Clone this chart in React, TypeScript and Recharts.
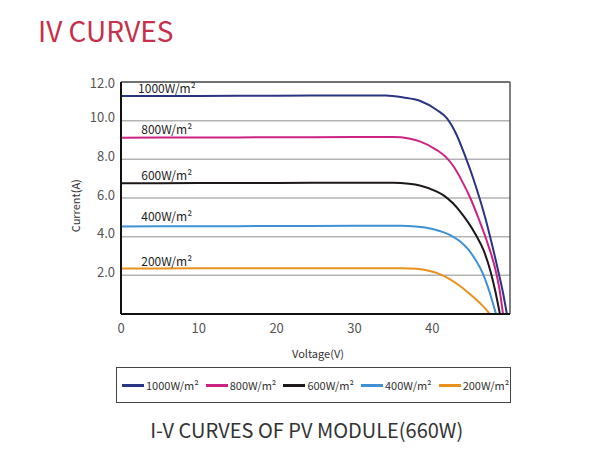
import React from 'react';
import { LineChart, Line, XAxis, YAxis, CartesianGrid, ReferenceLine, ReferenceDot } from 'recharts';

const FONT = '"Noto Sans CJK SC", "Noto Sans", sans-serif';

// [voltage, current] points
const s1000: [number, number][] = [[0, 11.27], [10, 11.28], [20, 11.29], [30, 11.3], [34, 11.3], [36.3, 11.2], [38.4, 11.03], [40.6, 10.55], [41.9, 10.12], [43.1, 9.3], [44.3, 8.1], [45.2, 7.1], [46.0, 6.1], [46.8, 5.0], [47.5, 3.9], [48.5, 2.2], [49.1, 1.1], [49.6, 0]];
const s800: [number, number][] = [[0, 9.12], [10, 9.13], [20, 9.14], [30, 9.15], [35, 9.15], [37, 9.08], [38.4, 8.93], [40.6, 8.48], [41.8, 8.1], [42.8, 7.6], [43.8, 6.9], [44.9, 6.0], [46.0, 4.9], [47.0, 3.8], [48.3, 2.0], [48.7, 1.15], [49.1, 0]];
const s600: [number, number][] = [[0, 6.76], [10, 6.77], [20, 6.78], [30, 6.79], [35, 6.79], [37, 6.74], [38.4, 6.65], [40.6, 6.33], [41.6, 6.1], [42.6, 5.75], [43.6, 5.3], [44.6, 4.75], [45.6, 4.1], [46.6, 3.3], [47.5, 2.2], [48.1, 1.2], [48.7, 0]];
const s400: [number, number][] = [[0, 4.53], [10, 4.54], [20, 4.55], [30, 4.56], [36, 4.56], [37.8, 4.53], [39.1, 4.47], [40.3, 4.37], [41.5, 4.22], [42.6, 4.02], [43.6, 3.75], [44.6, 3.35], [45.6, 2.78], [46.5, 2.1], [47.2, 1.35], [47.7, 0.7], [48.2, 0]];
const s200: [number, number][] = [[0, 2.35], [10, 2.36], [20, 2.36], [30, 2.37], [36, 2.37], [38, 2.34], [39.1, 2.28], [40.2, 2.17], [41.2, 2.02], [42.3, 1.79], [43.4, 1.5], [44.5, 1.15], [45.5, 0.8], [46.5, 0.42], [47.4, 0]];

const seriesNames = ['1000W/m²', '800W/m²', '600W/m²', '400W/m²', '200W/m²'];
const seriesColors = ['#2b3481', '#cc2383', '#1c1718', '#3f91d3', '#e8921e'];
const seriesData = [s1000, s800, s600, s400, s200];
// label anchor (voltage, current) for each curve's text
const labelPos: [number, number][] = [[2.2, 11.69], [2.6, 9.57], [2.6, 7.23], [2.6, 5.07], [2.6, 2.79]];

const xTicks = [0, 10, 20, 30, 40];
const yTicks = [2, 4, 6, 8, 10, 12];

const toRows = (s: [number, number][]) => s.map(([v, i]) => ({ v, i }));

const YTick = (props: any) => {
  const { x, y, payload } = props;
  const v = payload.value as number;
  return (
    <text x={x} y={y + (v === 12 ? 0 : -4)} textAnchor="end" dominantBaseline="central" fill="#555" fontSize={13} fontFamily={FONT}>
      {v.toFixed(1)}
    </text>
  );
};

const XTick = (props: any) => {
  const { x, y, payload } = props;
  return (
    <text x={x} y={y + 5} textAnchor="middle" dominantBaseline="central" fill="#555" fontSize={13} fontFamily={FONT}>
      {payload.value}
    </text>
  );
};

const makeLabel = (text: string) => (props: any) => {
  const vb = props.viewBox || {};
  return (
    <text x={vb.x} y={vb.y} textAnchor="start" dominantBaseline="central" fill="#222" fontSize={12} fontFamily={FONT}>
      {text}
    </text>
  );
};

export default function App() {
  return (
    <div style={{ position: 'absolute', left: 0, top: 0, width: 603, height: 459, background: '#fff', fontFamily: FONT }}>
      <LineChart width={603} height={459} margin={{ top: 82, right: 93, left: 81, bottom: 115 }}>
        <CartesianGrid horizontal vertical={false} stroke="#b3b3b3" strokeWidth={1.5} />
        <XAxis
          type="number"
          dataKey="v"
          domain={[0, 50]}
          ticks={xTicks}
          tick={<XTick />}
          tickLine={false}
          height={30}
          axisLine={{ stroke: '#111', strokeWidth: 2 }}
          allowDataOverflow
        />
        <YAxis
          type="number"
          dataKey="i"
          domain={[0, 12]}
          ticks={yTicks}
          tick={<YTick />}
          tickLine={false}
          tickSize={4}
          tickMargin={2}
          width={40}
          axisLine={{ stroke: '#111', strokeWidth: 2 }}
          allowDataOverflow
        />
        <ReferenceLine y={12} stroke="#555" strokeWidth={1.5} />
        <ReferenceLine x={50} stroke="#555" strokeWidth={1.5} />
        {seriesData.map((s, k) => (
          <Line
            key={seriesNames[k]}
            data={toRows(s)}
            dataKey="i"
            name={seriesNames[k]}
            type="monotone"
            stroke={seriesColors[k]}
            strokeWidth={2}
            dot={false}
            activeDot={false}
            isAnimationActive={false}
          />
        ))}
        {labelPos.map(([v, i], k) => (
          <ReferenceDot key={'lbl' + k} x={v} y={i} r={0} stroke="none" fill="none" label={makeLabel(seriesNames[k])} />
        ))}
      </LineChart>

      <svg width={603} height={459} style={{ position: 'absolute', left: 0, top: 0, pointerEvents: 'none' }}>
        <text x={38} y={41.7} fill="#c6304b" fontSize={28} fontFamily={FONT}>IV CURVES</text>
        <text x={75} y={205.7} transform="rotate(-90 75 205.7)" textAnchor="middle" dominantBaseline="central" fill="#333" fontSize={11} fontFamily={FONT}>Current(A)</text>
        <text x={318} y={353.3} textAnchor="middle" dominantBaseline="central" fill="#333" fontSize={11} fontFamily={FONT}>Voltage(V)</text>
        <text x={306.7} y={438.3} textAnchor="middle" fill="#333" fontSize={20} fontFamily={FONT}>I-V CURVES OF PV MODULE(660W)</text>
      </svg>

      <div
        style={{
          position: 'absolute',
          left: 116,
          top: 367,
          width: 395,
          height: 36,
          boxSizing: 'border-box',
          border: '1px solid #444',
          display: 'flex',
          alignItems: 'center',
          paddingLeft: 5,
          fontSize: 11,
          color: '#333',
          fontFamily: FONT,
        }}
      >
        {seriesNames.map((n, k) => (
          <div key={n} style={{ display: 'flex', alignItems: 'center', marginRight: k === 4 ? 0 : 7 }}>
            <div style={{ width: 22, height: 3, background: seriesColors[k], marginRight: 2 }} />
            <span>{n}</span>
          </div>
        ))}
      </div>
    </div>
  );
}
